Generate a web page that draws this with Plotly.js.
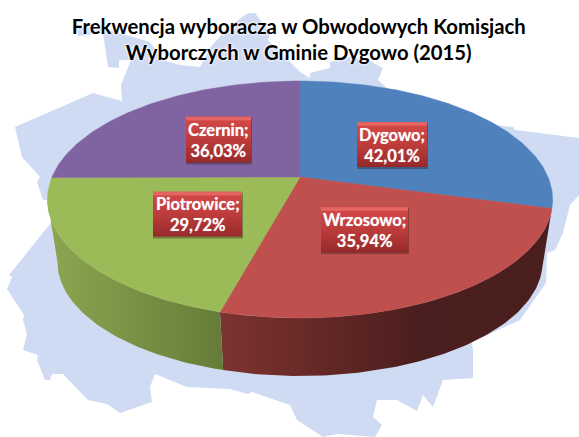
<!DOCTYPE html>
<html><head><meta charset="utf-8">
<script src="https://cdn.plot.ly/plotly-3.0.1.min.js"></script>
<style>html,body{margin:0;padding:0;background:#fff}#c{width:579px;height:437px}</style>
</head><body><div id="c"></div>
<script>
// Data
const names = ['Dygowo','Wrzosowo','Piotrowice','Czernin'];
const values = [42.01,35.94,29.72,36.03];
const topColors = ['#4f81bd','#c0504d','#9bbb59','#8064a2'];
const wallScales = [
  null,
  [[0,'#7d3331'],[0.4,'#5c2523'],[0.6,'#4b1f1f'],[1,'#4b1e1e']],
  [[0,'#8ca651'],[1,'#657c38']],
  null
];
// Label placement
const labelCx = [392,364.5,197.5,218.5];
const labelCy = [144.5,229.5,214,139.5];
const labelW = [70,87,89,65];
const labelH = [45,45,45,46];
// Background map outline
const mapX = [15,93,122,121,131,119,119,108,103,78,77,103,150,163,180,200,210,227,248,255,270,268,280,300,310,310,330,330,350,368,383,378,400,450,513,515,579,579,570,563,555,547,546,520,472,473,473,443,433,423,417,397,377,373,382,375,337,323,297,290,252,248,230,187,155,150,152,130,120,107,88,63,52,50,45,37,38,23,27,23,24,7,12,9,50,60,43,37,40,22];
const mapY = [127,93,101,85,60,60,68,67,33,36,27,28,42,60,65,67,48,28,13,13,33,40,52,72,78,73,68,62,57,60,68,80,100,120,127,130,138,195,205,233,250,253,283,320,342,352,378,380,407,395,411,400,400,417,425,437,434,437,420,405,392,394,389,387,374,387,402,410,413,404,400,374,374,380,380,360,355,350,334,320,315,289,277,275,224,200,200,182,177,157];

// Projected disc geometry
const cx=300, cy=177, R=248, A=114.2, B=-0.19, depthScale=0.96, cyBottom=240.6;
const total = values.reduce((a,b)=>a+b,0);
function rim(deg,bottom){
  const t=deg*Math.PI/180, s=-Math.cos(t), w=1+B*s, k=bottom?depthScale:1;
  return [cx+k*R*Math.sin(t)/w,(bottom?cyBottom:cy)+k*A*s/w];
}
function arc(a,b,bottom){
  const pts=[], n=Math.max(2,Math.ceil(Math.abs(b-a)));
  for(let i=0;i<=n;i++) pts.push(rim(a+(b-a)*i/n,bottom));
  return pts;
}
const walls=[], tops=[];
let ang=0;
values.forEach((v,i)=>{
  const a=ang, b=ang+v/total*360; ang=b;
  const p=[[cx,cy]].concat(arc(a,b,false));
  p.push([cx,cy]);
  tops.push({type:'scatter',mode:'lines',x:p.map(q=>q[0]),y:p.map(q=>q[1]),fill:'toself',
    fillcolor:topColors[i],line:{width:0.5,color:topColors[i]},hoverinfo:'skip',name:names[i]});
  const fa=Math.max(a,100), fb=Math.min(b,259);
  if(fb>fa && wallScales[i]){
    const w=arc(fa,fb,false).concat(arc(fb,fa,true));
    w.push(w[0]);
    walls.push({type:'scatter',mode:'lines',x:w.map(q=>q[0]),y:w.map(q=>q[1]),fill:'toself',
      fillgradient:{type:'horizontal',colorscale:wallScales[i]},line:{width:0},hoverinfo:'skip'});
  }
});
function rect(cxx,cyy,w,h){
  return {x:[cxx-w/2,cxx+w/2,cxx+w/2,cxx-w/2,cxx-w/2],y:[cyy-h/2,cyy-h/2,cyy+h/2,cyy+h/2,cyy-h/2]};
}
function v2s(v){return v.toFixed(2).replace('.',',');}
const boxes=[], annotations=[];
names.forEach((n,i)=>{
  boxes.push(Object.assign({type:'scatter',mode:'lines',fill:'toself',fillcolor:'rgba(40,20,20,0.35)',line:{width:0},hoverinfo:'skip'},
    rect(labelCx[i]+0.5,labelCy[i]+1.5,labelW[i]+1,labelH[i]+1)));
  boxes.push(Object.assign({type:'scatter',mode:'lines',fill:'toself',line:{width:0},hoverinfo:'skip',
    fillgradient:{type:'vertical',colorscale:[[0,'#8f2828'],[0.06,'#9c2c2c'],[0.5,'#bd3c3b'],[0.9,'#d04745'],[0.94,'#e86a68'],[1,'#e05c5a']]}},
    rect(labelCx[i],labelCy[i],labelW[i],labelH[i])));
  annotations.push({x:labelCx[i],y:labelCy[i]+0.5,xref:'x',yref:'y',showarrow:false,align:'center',
    text:n+';<br>'+v2s(values[i])+'%',
    font:{family:'Lato, Carlito, sans-serif',size:16.5,color:'#fff',weight:700,shadow:'0 0 1px rgba(255,255,255,0.6)'}});
});

const mapTrace={type:'scatter',mode:'lines',x:mapX.concat(mapX[0]),y:mapY.concat(mapY[0]),fill:'toself',
  fillcolor:'#cfdaf3',line:{width:0},hoverinfo:'skip'};

Plotly.newPlot('c',[mapTrace].concat(walls,tops,boxes),{
  width:579,height:437,margin:{l:0,r:0,t:0,b:0},showlegend:false,
  paper_bgcolor:'#fff',plot_bgcolor:'#fff',
  xaxis:{range:[0,579],visible:false,fixedrange:true},
  yaxis:{range:[437,0],visible:false,fixedrange:true},
  title:{text:'Frekwencja wyboracza w Obwodowych Komisjach<br>Wyborczych w Gminie Dygowo (2015)',
    x:0.516,xanchor:'center',y:0.922,yanchor:'top',
    font:{family:'Lato, Carlito, sans-serif',size:20.3,color:'#000',weight:700,shadow:'0 0 3px #fff, 0 0 3px #fff'}},
  annotations:annotations
},{staticPlot:true,displayModeBar:false});
</script></body></html>
